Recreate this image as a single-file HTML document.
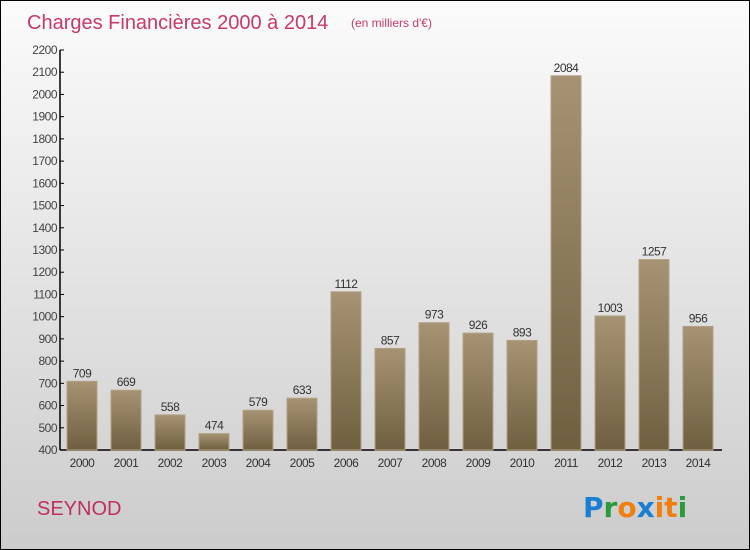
<!DOCTYPE html>
<html><head><meta charset="utf-8"><style>
body{margin:0;}
#wrap{width:748px;height:548px;border:1px solid #000;background:linear-gradient(#fbfbfb,#cccccc);position:relative;font-family:"Liberation Sans",sans-serif;overflow:hidden}
</style></head><body>
<div id="wrap">
<svg id="chart" width="748" height="548">
<defs><linearGradient id="bg" x1="0" y1="0" x2="0" y2="1"><stop offset="0" stop-color="#a69374"/><stop offset="1" stop-color="#6f5f40"/></linearGradient></defs>
<text x="26" y="28" font-size="20" fill="#c53a66">Charges Financières 2000 à 2014</text>
<text x="350" y="26" font-size="12" fill="#c53a66">(en milliers d'€)</text>
<text x="36" y="514" font-size="20" fill="#c0305e">SEYNOD</text>
<g font-size="28" font-weight="bold" font-family="'DejaVu Sans',sans-serif">
<text x="582" y="516"><tspan fill="#1a7fd4">P</tspan><tspan fill="#2a9a3a">r</tspan><tspan fill="#f07f10">o</tspan><tspan fill="#1a7fd4">x</tspan><tspan fill="#f07f10">i</tspan><tspan fill="#f07f10">t</tspan><tspan fill="#2a9a3a">i</tspan></text></g>
<g id="g"></g>
</svg></div>
<script>
const years=["2000","2001","2002","2003","2004","2005","2006","2007","2008","2009","2010","2011","2012","2013","2014"];
const values=[709,669,558,474,579,633,1112,857,973,926,893,2084,1003,1257,956];
const yTicks=[400,500,600,700,800,900,1000,1100,1200,1300,1400,1500,1600,1700,1800,1900,2000,2100,2200];
const ns="http://www.w3.org/2000/svg";
const g=document.getElementById('g');
const y=v=>449-(v-400)*400/1800;
const x=i=>81+i*44;
function mk(t,a){const e=document.createElementNS(ns,t);for(const k in a)e.setAttribute(k,a[k]);g.appendChild(e);return e;}
let ax=mk('line',{x1:59,y1:49,x2:59,y2:449,stroke:'#000','stroke-width':1.5});


let bx=mk('line',{x1:59,y1:449,x2:721,y2:449,stroke:'#000','stroke-width':1.5});


yTicks.forEach(v=>{
 mk('line',{x1:59,y1:y(v),x2:63,y2:y(v),stroke:'#000'});
 const t=mk('text',{x:56,y:y(v)+4,'font-size':12,fill:'#444','text-anchor':'end','letter-spacing':'-0.5'});t.textContent=v;
 
 
});
values.forEach((v,i)=>{
 const r=mk('rect',{x:x(i)-15,y:y(v),width:30,height:449-y(v),fill:'url(#bg)',stroke:'#b3a184','stroke-width':1});
 
 
 const t=mk('text',{x:x(i),y:y(v)-4,'font-size':12,fill:'#333','text-anchor':'middle','letter-spacing':'-0.5'});t.textContent=v;
 
 
 const l=mk('text',{x:x(i),y:466,'font-size':12,fill:'#333','text-anchor':'middle','letter-spacing':'-0.5'});l.textContent=years[i];
 
 
});
</script>
</body></html>
